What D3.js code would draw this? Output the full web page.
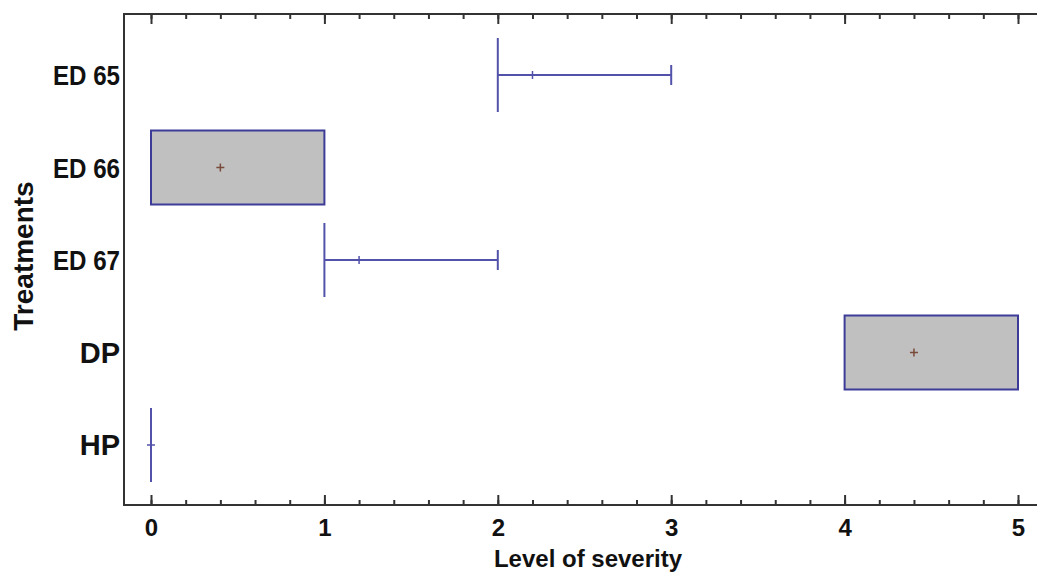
<!DOCTYPE html>
<html><head><meta charset="utf-8">
<script src="https://cdn.jsdelivr.net/npm/d3@7"></script>
<style>html,body{margin:0;padding:0;background:#fff;}svg{display:block;}</style>
</head><body>
<script>
const categories = ["ED 65","ED 66","ED 67","DP","HP"];
const minValues  = [2, 0, 1, 4, 0];
const q1Values   = [2, 0, 1, 4, 0];
const q3Values   = [2, 1, 1, 5, 0];
const maxValues  = [3, 1, 2, 5, 0];
const meanValues = [2.2, 0.4, 1.2, 4.4, 0];
const xTickValues = [0, 1, 2, 3, 4, 5];
const xTickLabels = ["0","1","2","3","4","5"];
const xMinorTicks = d3.range(0, 26).map(i => i / 5);

(function () {
const W = 1037, H = 573;
const svg = d3.select("body").append("svg").attr("width", W).attr("height", H);

const x = d3.scaleLinear().domain([0, 5]).range([151, 1018]);
const y = d3.scalePoint().domain(categories).range([75, 445]);
const plotTop = 14, plotBottom = 505, plotLeft = 124, plotRight = 1037;
const boxH = 74, capH = 20;

const axisColor = "#333";
svg.append("line").attr("x1", plotLeft - 1).attr("x2", plotRight).attr("y1", plotTop).attr("y2", plotTop)
  .attr("stroke", axisColor).attr("stroke-width", 2);
svg.append("line").attr("x1", plotLeft - 1).attr("x2", plotRight).attr("y1", plotBottom).attr("y2", plotBottom)
  .attr("stroke", axisColor).attr("stroke-width", 2);
svg.append("line").attr("x1", plotLeft).attr("x2", plotLeft).attr("y1", plotTop).attr("y2", plotBottom)
  .attr("stroke", axisColor).attr("stroke-width", 2);

function styleAxis(g) {
  g.select(".domain").remove();
  g.selectAll(".tick line").attr("stroke", axisColor).attr("stroke-width", 2);
}
svg.append("g").attr("transform", `translate(0,${plotTop})`)
  .call(d3.axisTop(x).tickValues(xMinorTicks).tickSize(-5).tickFormat(""))
  .call(styleAxis);
svg.append("g").attr("transform", `translate(0,${plotTop})`)
  .call(d3.axisTop(x).tickValues(xTickValues).tickSize(-10).tickFormat(""))
  .call(styleAxis);
svg.append("g").attr("transform", `translate(0,${plotBottom})`)
  .call(d3.axisBottom(x).tickValues(xMinorTicks).tickSize(-5).tickFormat(""))
  .call(styleAxis);
const bAx = svg.append("g").attr("transform", `translate(0,${plotBottom})`)
  .call(d3.axisBottom(x).tickValues(xTickValues).tickSize(-10)
    .tickFormat((d, i) => xTickLabels[i]))
  .call(styleAxis);
bAx.selectAll(".tick text")
  .attr("font-family", "Liberation Sans, Arial, sans-serif")
  .attr("font-weight", "bold").attr("font-size", 24).attr("fill", "#111")
  .attr("dy", "0.35em").attr("y", 23);

svg.append("text").attr("x", 588).attr("y", 567).attr("text-anchor", "middle")
  .attr("font-family", "Liberation Sans, Arial, sans-serif").attr("font-weight", "bold")
  .attr("font-size", 24).attr("fill", "#111").text("Level of severity");
svg.append("text").attr("transform", "translate(33,256) rotate(-90)").attr("text-anchor", "middle")
  .attr("font-family", "Liberation Sans, Arial, sans-serif").attr("font-weight", "bold")
  .attr("font-size", 28).attr("fill", "#111").text("Treatments");

categories.forEach((c) => {
  const t = svg.append("text").attr("x", 120).attr("y", y(c)).attr("dy", "0.36em")
    .attr("text-anchor", "end")
    .attr("font-family", "Liberation Sans, Arial, sans-serif").attr("font-weight", "bold")
    .attr("fill", "#111").text(c);
  if (c.startsWith("ED")) {
    t.attr("font-size", 28).attr("textLength", 67).attr("lengthAdjust", "spacingAndGlyphs");
  } else {
    t.attr("font-size", 29);
  }
});

const boxStroke = "#3c3c98", whiskerStroke = "#5252aa";
const data = categories.map((c, i) => ({
  c, min: minValues[i], q1: q1Values[i], q3: q3Values[i], max: maxValues[i], mean: meanValues[i]
}));

const g = svg.append("g");
data.forEach(d => {
  const cy = y(d.c);
  if (d.max > d.q3) {
    g.append("line").attr("x1", x(d.q3)).attr("x2", x(d.max)).attr("y1", cy).attr("y2", cy)
      .attr("stroke", whiskerStroke).attr("stroke-width", 2);
    g.append("line").attr("x1", x(d.max)).attr("x2", x(d.max)).attr("y1", cy - capH / 2).attr("y2", cy + capH / 2)
      .attr("stroke", whiskerStroke).attr("stroke-width", 2);
  }
  if (d.min < d.q1) {
    g.append("line").attr("x1", x(d.min)).attr("x2", x(d.q1)).attr("y1", cy).attr("y2", cy)
      .attr("stroke", whiskerStroke).attr("stroke-width", 2);
    g.append("line").attr("x1", x(d.min)).attr("x2", x(d.min)).attr("y1", cy - capH / 2).attr("y2", cy + capH / 2)
      .attr("stroke", whiskerStroke).attr("stroke-width", 2);
  }
  if (d.q3 > d.q1) {
    g.append("rect").attr("x", x(d.q1)).attr("y", cy - boxH / 2)
      .attr("width", x(d.q3) - x(d.q1)).attr("height", boxH)
      .attr("fill", "#c0c0c0").attr("stroke", boxStroke).attr("stroke-width", 2);
  } else {
    g.append("line").attr("x1", x(d.q1)).attr("x2", x(d.q1)).attr("y1", cy - boxH / 2).attr("y2", cy + boxH / 2)
      .attr("stroke", whiskerStroke).attr("stroke-width", 2);
  }
  const mx = x(d.mean), s = 4;
  const col = d.q3 > d.q1 ? "#7a4a3a" : whiskerStroke;
  g.append("line").attr("x1", mx - s).attr("x2", mx + s).attr("y1", cy).attr("y2", cy)
    .attr("stroke", col).attr("stroke-width", 1.5);
  g.append("line").attr("x1", mx).attr("x2", mx).attr("y1", cy - s).attr("y2", cy + s)
    .attr("stroke", col).attr("stroke-width", 1.5);
});
})();
</script>
</body></html>
